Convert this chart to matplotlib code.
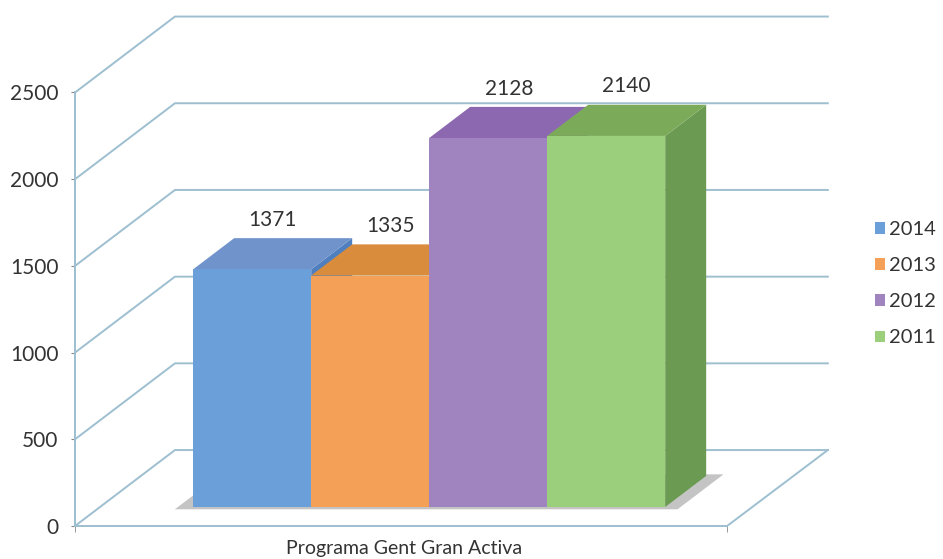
import matplotlib.pyplot as plt
from matplotlib.patches import Polygon, Patch

plt.rcParams['font.family'] = ['Lato', 'DejaVu Sans']

# datos
anys = ['2014', '2013', '2012', '2011']
valors = [1371, 1335, 2128, 2140]
categoria = 'Programa Gent Gran Activa'
yticks = [0, 500, 1000, 1500, 2000, 2500]

col_front = ['#6a9fd9', '#f4a056', '#a084c0', '#9ccf7c']
col_top = ['#7093cb', '#d98d3c', '#8c68b0', '#7bab58']
col_side = ['#4f7fbf', '#c9782c', '#7d5aa2', '#6b9b52']
grid_col = '#9dbfd0'
txt_col = '#333333'

# geometria "3D" (proyeccion oblicua)
DX, DY = 0.847, 438.0        # desplazamiento de la pared del fondo
d_front, d_back = 0.25, 0.66  # profundidad de las barras
x0, xr = -1.29, 4.236         # suelo delantero
x_back = 5.09

fig = plt.figure(figsize=(9.43, 5.59), dpi=100)
ax = fig.add_axes([75 / 943, 33 / 559, 765 / 943, 516 / 559])
ax.set_xlim(x0, x0 + 765 / 118)
ax.set_ylim(0, 516 / 0.1734)

# rejilla: diagonal + linea en la pared del fondo
for v in yticks:
    ax.plot([x0, x0 + DX, x_back], [v, v + DY, v + DY], color=grid_col, lw=1.4, zorder=1)
# suelo, lado derecho
ax.plot([xr, x_back], [0, DY], color=grid_col, lw=1.4, zorder=1)

# sombra en el suelo
n = len(valors)
sx0, sx1 = -0.5 - 0.13, n - 0.5 + 0.13
sd0, sd1 = d_front - 0.03, d_back + 0.02
sombra = [(sx0 + sd0 * DX, sd0 * DY), (sx1 + sd0 * DX, sd0 * DY),
          (sx1 + sd1 * DX, sd1 * DY), (sx0 + sd1 * DX, sd1 * DY)]
ax.add_patch(Polygon(sombra, closed=True, color='#8a8a8a', alpha=0.5, lw=0, zorder=2))

# barras
for i, v in enumerate(valors):
    l, r = i - 0.5, i + 0.5
    fb = d_front * DY
    fx = d_front * DX
    bx, by = d_back * DX, d_back * DY
    z = 3 + i * 3
    top = [(l + fx, v + fb), (r + fx, v + fb), (r + bx, v + by), (l + bx, v + by)]
    side = [(r + fx, fb), (r + bx, by), (r + bx, v + by), (r + fx, v + fb)]
    ax.add_patch(Polygon(side, closed=True, facecolor=col_side[i], lw=0, zorder=z))
    ax.add_patch(Polygon(top, closed=True, facecolor=col_top[i], lw=0, zorder=z + 1))
    ax.bar(i + fx, v, width=1.0, bottom=fb, color=col_front[i], lw=0, zorder=z + 2)
    ax.annotate(str(v), ((l + r) / 2 + (d_front + d_back) / 2 * DX, v + by),
                xytext=(0, 6), textcoords='offset points', ha='center', va='bottom',
                fontsize=15, color=txt_col, zorder=20)

# ejes
for s in ['top', 'right']:
    ax.spines[s].set_visible(False)
ax.spines['left'].set_bounds(0, 2500)
ax.spines['bottom'].set_bounds(x0, xr)
ax.spines['left'].set_color(grid_col)
ax.spines['bottom'].set_color(grid_col)
ax.spines['left'].set_linewidth(1.4)
ax.spines['bottom'].set_linewidth(1.4)

ax.set_yticks(yticks)
ax.set_yticklabels([str(t) for t in yticks])
ax.tick_params(axis='y', length=3, color='#888888', pad=9, labelsize=15, labelcolor=txt_col)

ax.set_xticks([1.5])
ax.set_xticklabels([categoria])
ax.set_xticks([x0, xr], minor=True)
ax.tick_params(axis='x', which='major', length=0, pad=10, labelsize=14, labelcolor=txt_col)
ax.tick_params(axis='x', which='minor', length=4, color='#888888')

# leyenda
handles = [Patch(facecolor=c, edgecolor='none') for c in col_front]
fig.legend(handles, anys, loc='upper left', bbox_to_anchor=(875 / 943, 1 - 221 / 559),
           frameon=False, fontsize=14.5, handlelength=0.5, handleheight=0.5,
           handletextpad=0.2, labelspacing=0.95, borderaxespad=0, borderpad=0,
           labelcolor=txt_col)

fig.savefig('out.png', dpi=100)
